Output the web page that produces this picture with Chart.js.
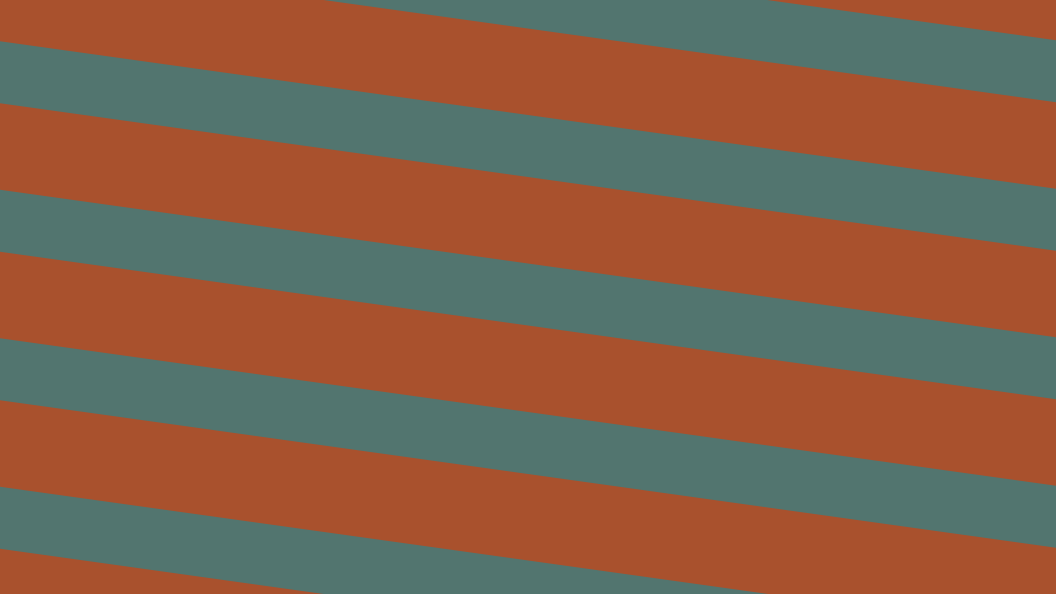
<!DOCTYPE html>
<html>
<head>
<meta charset="utf-8">
<script src="https://cdn.jsdelivr.net/npm/chart.js@4/dist/chart.umd.min.js"></script>
<style>
  html, body { margin: 0; padding: 0; background: #a9512d; overflow: hidden; }
  #stripes { display: block; background: #a9512d; }
</style>
</head>
<body>
<canvas id="stripes" width="1056" height="594"></canvas>
<script>
// x where each stripe edge is measured
const edgeX = [0, 1056];

// teal stripe edges, read at the left and right border
const topLeft = [-107, 41.3, 189.8, 338.3, 486.7];
const topRight = [40.3, 188.8, 337.3, 485.7, 634.2];
const bottomLeft = [-45.2, 103.3, 251.8, 400.3, 548.8];
const bottomRight = [102.3, 250.8, 399.3, 547.8, 696.3];

const orange = "#a9512d";
const teal = "#52756f";

function buildDatasets() {
  const sets = [];
  topLeft.forEach((t, i) => {
    sets.push({
      label: "top " + i,
      data: [
        { x: edgeX[0], y: t },
        { x: edgeX[1], y: topRight[i] },
      ],
      borderWidth: 0,
      pointRadius: 0,
      fill: false,
    });
    sets.push({
      label: "bottom " + i,
      data: [
        { x: edgeX[0], y: bottomLeft[i] },
        { x: edgeX[1], y: bottomRight[i] },
      ],
      borderWidth: 0,
      pointRadius: 0,
      backgroundColor: teal,
      fill: "-1",
    });
  });
  return sets;
}

document.addEventListener("DOMContentLoaded", () => {
  const ctx = document.getElementById("stripes").getContext("2d");

  new Chart(ctx, {
    type: "line",
    data: { datasets: buildDatasets() },
    options: {
      responsive: false,
      animation: false,
      layout: { padding: 0 },
      plugins: {
        legend: { display: false },
        tooltip: { enabled: false },
        filler: { propagate: false },
      },
      scales: {
        x: { type: "linear", min: 0, max: 1056, display: false },
        y: { type: "linear", min: 0, max: 594, reverse: true, display: false },
      },
    },
  });
});
</script>
</body>
</html>
